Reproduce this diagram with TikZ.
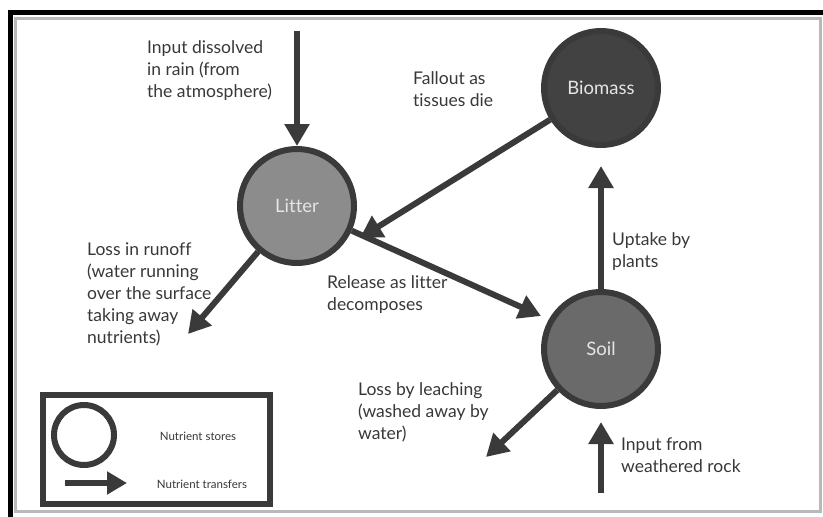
\documentclass[tikz,border=0pt]{standalone}
\usepackage{fontspec}
\setmainfont{Lato}[Ligatures=CommonOff]
\usetikzlibrary{arrows.meta}

\definecolor{ink}{HTML}{3A3A3A}
\definecolor{txt}{HTML}{383838}
\definecolor{litterfill}{HTML}{8C8C8C}
\definecolor{soilfill}{HTML}{6A6A6A}
\definecolor{biofill}{HTML}{424242}

\tikzset{
  store/.style={circle, draw=ink, line width=6pt, minimum size=114pt, inner sep=0pt,
    text=white!90!black, font=\fontsize{18.5}{22}\selectfont},
  flow/.style={draw=ink, line width=6pt,
    -{Triangle[width=24pt,length=22pt]}},
  lbl/.style={anchor=north west, align=left, inner sep=0pt, text=txt,
    font=\fontsize{17.5}{22}\selectfont},
  keylbl/.style={anchor=center, inner sep=0pt, text=txt,
    font=\fontsize{11.5}{13}\selectfont},
}

\begin{document}
\begin{tikzpicture}[x=1pt, y=-1pt]
  \useasboundingbox (0,0) rectangle (823,517);

  % outer frame
  \fill[black] (8,10) rectangle (823,15);
  \fill[black] (8,10) rectangle (13,517);
  \draw[gray!55, line width=3pt] (15.5,18.5) rectangle (820.5,511);

  % nutrient stores
  \node[store, fill=litterfill] (lit) at (297,206) {Litter};
  \node[store, fill=biofill]    (bio) at (601,88)  {Biomass};
  \node[store, fill=soilfill]   (soil) at (601,349) {Soil};

  % free ends of the transfers
  \coordinate (rain)   at (297,31);
  \coordinate (fall)   at (360,238);
  \coordinate (decomp) at (541,316);
  \coordinate (runoff) at (188,334);
  \coordinate (leach)  at (486,457);
  \coordinate (rock)   at (601,493);
  \coordinate (uptake) at (601,166);
  \coordinate (rockin) at (601,422);

  % nutrient transfers
  \draw[flow] (rain) -- (lit);
  \draw[flow] (bio) -- (fall);
  \draw[flow] (lit) -- (decomp);
  \draw[flow] (lit) -- (runoff);
  \draw[flow] (soil) -- (leach);
  \draw[flow] (soil) -- (uptake);
  \draw[flow] (rock) -- (rockin);

  % labels of the transfers
  \node[lbl] (lrain) at (147,40) {Input dissolved\\in rain (from\\the atmosphere)};
  \node[lbl] (lfall) at (413,71) {Fallout as\\tissues die};
  \node[lbl] (lrun) at (87,243) {Loss in runoff\\(water running\\over the surface\\taking away\\nutrients)};
  \node[lbl] (lrel) at (327,275) {Release as litter\\decomposes};
  \node[lbl] (lup) at (612,232) {Uptake by\\plants};
  \node[lbl] (lleach) at (358,382) {Loss by leaching\\(washed away by\\water)};
  \node[lbl] (lrock) at (621,438) {Input from\\weathered rock};

  % key
  \node[draw=ink, line width=6pt, minimum width=227pt, minimum height=109pt,
        inner sep=0pt] (key) at (156.5,449.5) {};
  \node[circle, draw=ink, line width=6pt, minimum size=60pt, inner sep=0pt] (keystore) at (84,435) {};
  \coordinate (keya) at (65,483);
  \coordinate (keyb) at (127,483);
  \draw[ink, line width=6pt, -{Triangle[width=22pt,length=20pt]}] (keya) -- (keyb);
  \node[keylbl] (kstores) at (198,436) {Nutrient stores};
  \node[keylbl] (ktransfers) at (202,484) {Nutrient transfers};
\end{tikzpicture}
\end{document}
